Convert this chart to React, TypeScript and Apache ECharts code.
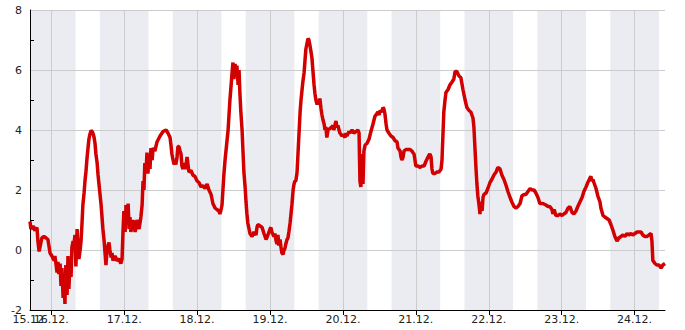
import { useEffect, useRef } from "react";
import * as echarts from "echarts";

// Day names; index 0 = 15.12. (hour 0 of the series = 15.12. 00:00)
const dayNames = ["15.12.", "16.12.", "17.12.", "18.12.", "19.12.", "20.12.", "21.12.", "22.12.", "23.12.", "24.12."];

// Readings per day: [hour of day, temperature °C]
const dec15 = [[17.0,0.95],[17.3,0.7],[18.0,0.8],[18.6,0.65],[19.3,0.75],[19.6,0.3],[20.0,-0.05],[20.3,0.1],[20.9,0.4],[21.6,0.45],[22.3,0.4],[22.9,0.35],[23.6,-0.1]];
const dec16 = [[0.2,-0.2],[0.9,-0.35],[1.2,-0.2],[1.6,-0.5],[1.9,-0.75],[2.2,-0.4],[2.5,-0.8],[2.9,-0.45],[3.2,-1.2],[3.5,-0.6],[3.9,-1.6],[4.2,-1.0],[4.5,-1.8],[4.8,-0.5],[5.2,-1.5],[5.5,-0.2],[5.8,-1.3],[6.2,-0.3],[6.5,-0.9],[6.8,0.1],[7.2,0.3],[7.5,0.2],[7.8,0.5],[8.1,-0.55],[8.5,0.7],[8.8,0.1],[9.1,-0.3],[9.5,0.0],[9.8,0.3],[10.1,0.85],[10.4,1.5],[10.8,1.9],[11.1,2.3],[11.4,2.6],[11.8,3.1],[12.1,3.4],[12.4,3.7],[12.7,3.85],[13.1,3.98],[13.4,3.95],[13.7,3.9],[14.1,3.75],[14.4,3.55],[14.7,3.2],[15.1,2.9],[15.4,2.5],[15.7,2.2],[16.0,1.9],[16.4,1.5],[16.7,1.1],[17.0,0.7],[17.4,0.3],[17.7,-0.1],[18.0,-0.5],[18.3,-0.1],[18.7,0.15],[19.0,0.25],[19.3,0.0],[19.7,-0.25],[20.0,-0.1],[20.3,-0.35],[21.0,-0.2],[21.6,-0.35],[22.3,-0.3],[22.9,-0.45],[23.3,-0.3],[23.6,0.6],[23.9,1.3]];
const dec17 = [[0.3,0.6],[0.6,1.5],[0.9,0.9],[1.3,1.55],[1.6,0.7],[1.9,1.1],[2.2,0.6],[2.9,1.0],[3.6,0.6],[4.2,1.0],[4.9,0.7],[5.5,1.1],[5.9,1.5],[6.2,2.3],[6.5,2.0],[6.8,2.9],[7.2,2.6],[7.5,3.25],[7.8,2.55],[8.2,3.0],[8.5,2.7],[8.8,3.4],[9.2,3.0],[9.5,3.4],[10.1,3.3],[10.8,3.6],[11.8,3.8],[12.8,3.95],[13.8,4.0],[14.4,3.9],[15.1,3.75],[15.4,3.5],[15.7,3.2],[16.1,3.0],[16.4,2.85],[16.7,2.95],[17.0,2.85],[17.4,3.1],[17.7,3.45],[18.0,3.45],[18.4,3.3],[18.7,3.2],[19.0,2.8],[19.4,2.7],[19.7,2.9],[20.0,2.7],[20.3,2.8],[20.7,3.1],[21.0,2.85],[21.3,2.6],[22.0,2.65],[22.6,2.5],[23.3,2.45]];
const dec18 = [[0.0,2.3],[0.6,2.25],[1.3,2.1],[1.9,2.15],[2.6,2.05],[3.3,2.2],[3.9,2.0],[4.6,1.85],[5.2,1.55],[5.9,1.4],[6.5,1.35],[7.2,1.3],[7.5,1.2],[7.9,1.35],[8.2,1.5],[8.5,2.0],[8.8,2.5],[9.2,3.0],[9.5,3.3],[9.8,3.6],[10.2,4.0],[10.5,4.5],[10.8,5.0],[11.2,5.5],[11.5,5.9],[11.8,6.25],[12.1,5.7],[12.5,6.2],[12.8,5.8],[13.1,6.15],[13.5,5.5],[13.8,6.0],[14.1,5.2],[14.4,4.6],[14.8,4.0],[15.1,3.3],[15.4,2.6],[15.8,2.1],[16.1,1.6],[16.4,1.2],[16.7,0.9],[17.1,0.7],[17.4,0.55],[18.1,0.45],[18.7,0.6],[19.4,0.5],[19.7,0.75],[20.0,0.85],[20.7,0.8],[21.4,0.75],[22.0,0.55],[22.7,0.35],[23.3,0.5]];
const dec19 = [[0.0,0.7],[0.3,0.75],[0.6,0.6],[1.3,0.45],[1.6,0.55],[2.0,0.3],[2.3,0.2],[2.6,0.5],[2.9,0.15],[3.3,0.35],[3.6,0.1],[3.9,-0.1],[4.3,-0.15],[4.6,0.0],[4.9,0.05],[5.2,0.2],[5.6,0.35],[5.9,0.4],[6.2,0.6],[6.6,0.9],[6.9,1.2],[7.2,1.5],[7.6,2.0],[7.9,2.2],[8.2,2.3],[8.5,2.3],[8.9,2.6],[9.2,3.2],[9.5,3.8],[9.9,4.6],[10.2,5.0],[10.5,5.3],[10.8,5.6],[11.2,5.9],[11.5,6.3],[11.8,6.7],[12.2,6.9],[12.5,7.05],[12.8,7.0],[13.1,6.85],[13.5,6.6],[13.8,6.4],[14.1,6.0],[14.5,5.5],[14.8,5.2],[15.1,5.0],[15.5,4.85],[15.8,5.0],[16.1,4.9],[16.4,5.05],[16.8,4.7],[17.1,4.5],[17.4,4.35],[17.8,4.2],[18.1,4.0],[18.4,4.1],[18.7,3.75],[19.1,4.0],[19.7,4.05],[20.4,4.1],[20.7,4.15],[21.0,4.0],[21.7,4.3],[22.0,4.1],[22.4,4.15],[22.7,4.0],[23.0,3.9],[23.7,3.8]];
const dec20 = [[0.0,3.85],[0.7,3.75],[1.0,3.9],[1.3,3.8],[2.0,3.95],[2.3,3.9],[3.0,4.0],[3.6,3.9],[4.3,3.95],[4.9,4.0],[5.3,3.9],[5.6,2.3],[5.9,2.1],[6.3,3.2],[6.6,2.2],[6.9,3.3],[7.3,3.5],[7.9,3.55],[8.6,3.7],[9.2,3.95],[9.9,4.2],[10.5,4.45],[11.2,4.55],[11.5,4.6],[11.9,4.5],[12.2,4.65],[12.8,4.6],[13.2,4.75],[13.5,4.7],[13.8,4.55],[14.2,4.2],[14.5,4.0],[15.1,3.9],[15.8,3.8],[16.5,3.75],[17.1,3.65],[17.8,3.6],[18.1,3.4],[18.8,3.3],[19.1,3.1],[19.4,3.0],[19.8,3.1],[20.1,3.3],[20.7,3.35],[21.4,3.35],[22.1,3.35],[22.7,3.3],[23.0,3.25],[23.4,3.2],[23.7,3.0]];
const dec21 = [[0.0,2.8],[0.7,2.8],[1.4,2.75],[2.0,2.8],[2.7,2.8],[3.3,2.95],[4.0,3.1],[4.6,3.2],[5.0,3.1],[5.3,2.7],[5.6,2.55],[6.3,2.55],[6.9,2.6],[7.6,2.6],[8.3,2.7],[8.6,3.0],[8.9,3.8],[9.2,4.6],[9.6,5.0],[9.9,5.25],[10.6,5.35],[11.2,5.5],[11.9,5.6],[12.5,5.7],[12.9,5.95],[13.5,5.95],[14.2,5.8],[14.8,5.75],[15.5,5.35],[16.2,5.0],[16.8,4.75],[17.5,4.65],[18.1,4.6],[18.8,4.4],[19.1,4.1],[19.5,3.3],[19.8,2.7],[20.1,2.2],[20.4,1.8],[20.8,1.5],[21.1,1.2],[21.4,1.6],[21.8,1.3],[22.1,1.75],[22.4,1.85],[23.1,1.9],[23.7,2.05]];
const dec22 = [[0.4,2.25],[1.0,2.35],[1.7,2.5],[2.4,2.6],[3.0,2.75],[3.7,2.7],[4.3,2.5],[5.0,2.35],[5.7,2.15],[6.3,1.95],[7.0,1.75],[7.6,1.6],[8.3,1.45],[9.0,1.4],[9.6,1.45],[10.3,1.55],[10.9,1.8],[11.6,1.85],[12.2,1.85],[12.9,1.95],[13.6,2.05],[14.2,2.0],[14.9,2.0],[15.5,1.9],[16.2,1.75],[16.8,1.55],[17.8,1.55],[18.8,1.5],[19.5,1.45],[20.1,1.45],[20.8,1.35],[21.1,1.2],[21.5,1.35],[22.1,1.15],[22.8,1.15],[23.4,1.2]];
const dec23 = [[0.1,1.15],[0.7,1.2],[1.4,1.25],[2.1,1.4],[2.7,1.45],[3.4,1.25],[4.0,1.2],[4.7,1.3],[5.3,1.45],[6.0,1.6],[6.7,1.75],[7.3,1.95],[8.0,2.1],[8.6,2.25],[9.3,2.4],[9.6,2.45],[10.0,2.3],[10.3,2.35],[10.6,2.25],[11.3,2.05],[11.9,1.8],[12.6,1.6],[12.9,1.4],[13.6,1.15],[14.2,1.1],[14.9,1.05],[15.6,1.0],[16.2,0.85],[16.9,0.65],[17.5,0.45],[18.2,0.3],[18.8,0.4],[19.5,0.45],[20.2,0.5],[20.8,0.45],[21.5,0.55],[22.1,0.5],[22.8,0.55],[23.4,0.5]];
const dec24 = [[0.1,0.55],[0.8,0.6],[1.4,0.6],[2.1,0.6],[2.7,0.5],[3.4,0.45],[4.1,0.45],[4.7,0.5],[5.4,0.55],[5.7,0.3],[6.0,-0.35],[6.7,-0.45],[7.3,-0.5],[8.0,-0.5],[8.7,-0.6],[9.3,-0.5],[10.0,-0.45]];
const readingsByDay = [dec15, dec16, dec17, dec18, dec19, dec20, dec21, dec22, dec23, dec24];

// Axis extents (hours since 15.12. 00:00) and night shading hours
const axisStartHour = 17;
const axisEndHour = 226;
const nightStart = 16;
const nightEnd = 8;
const yTicks = [-2, 0, 2, 4, 6, 8];

export default function App() {
  const ref = useRef<HTMLDivElement>(null);
  useEffect(() => {
    document.body.style.margin = "0";
    if (!ref.current) return;
    const chart = echarts.init(ref.current, undefined, { renderer: "svg" });

    const data: number[][] = [];
    readingsByDay.forEach((day, i) => {
      day.forEach(([h, t]) => data.push([i * 24 + h, t]));
    });

    const dayTicks: number[] = [];
    for (let i = 1; i < dayNames.length; i++) dayTicks.push(i * 24);

    const bands: any[] = [];
    for (let i = 0; i < dayNames.length; i++) {
      const s = Math.max(i * 24 + nightStart, axisStartHour);
      const e = Math.min((i + 1) * 24 + nightEnd, axisEndHour);
      if (e > s) bands.push([{ xAxis: s }, { xAxis: e }]);
    }

    const labelFont = { color: "#222", fontSize: 11, fontFamily: "DejaVu Sans" };
    const dayFormatter = (v: number) => dayNames[Math.floor(v / 24)] ?? "";

    chart.setOption({
      animation: false,
      grid: { left: 30, right: 20, top: 10, bottom: 20, containLabel: false, outerBoundsMode: "none" },
      xAxis: [
        {
          type: "value",
          min: axisStartHour,
          max: axisEndHour,
          z: 3,
          axisLine: { show: true, onZero: false, lineStyle: { color: "#000", width: 1 } },
          axisTick: { show: true, length: 5, customValues: dayTicks, lineStyle: { color: "#000" } },
          axisLabel: {
            ...labelFont,
            margin: 4,
            showMinLabel: true,
            showMaxLabel: true,
            customValues: dayTicks,
            formatter: dayFormatter,
          },
          splitLine: { show: true, lineStyle: { color: "#cccccc", width: 1 } },
        },
        {
          type: "value",
          position: "bottom",
          min: axisStartHour,
          max: axisEndHour,
          z: 3,
          axisLine: { show: false, onZero: false },
          axisTick: { show: false },
          splitLine: { show: false },
          axisLabel: {
            ...labelFont,
            margin: 4,
            showMinLabel: true,
            customValues: [axisStartHour],
            formatter: dayFormatter,
          },
        },
      ],
      yAxis: {
        type: "value",
        min: yTicks[0],
        max: yTicks[yTicks.length - 1],
        interval: 2,
        z: 3,
        axisLine: { show: true, lineStyle: { color: "#000", width: 1 } },
        axisTick: { show: false, inside: true },
        minorTick: { show: true, splitNumber: 2, length: 4, lineStyle: { color: "#000" } },
        axisLabel: { ...labelFont, margin: 8, showMinLabel: true, showMaxLabel: true },
        splitLine: { show: true, lineStyle: { color: "#cccccc", width: 1 } },
      },
      series: [
        {
          type: "line",
          data: [],
          silent: true,
          markLine: {
            z: 1,
            silent: true,
            symbol: "none",
            label: { show: false },
            lineStyle: { color: "#000", width: 1, type: "solid" },
            data: [{ yAxis: 0 }],
          },
        },
        {
          type: "line",
          data: [],
          silent: true,
          markArea: {
            z: 2,
            silent: true,
            itemStyle: { color: "rgba(222,223,232,0.6)" },
            data: bands,
          },
        },
        {
          type: "line",
          data,
          z: 5,
          showSymbol: false,
          symbol: "none",
          lineStyle: { color: "#d20000", width: 3.5 },
        },
      ],
    });
    return () => chart.dispose();
  }, []);
  return <div ref={ref} style={{ width: 685, height: 330 }} />;
}
